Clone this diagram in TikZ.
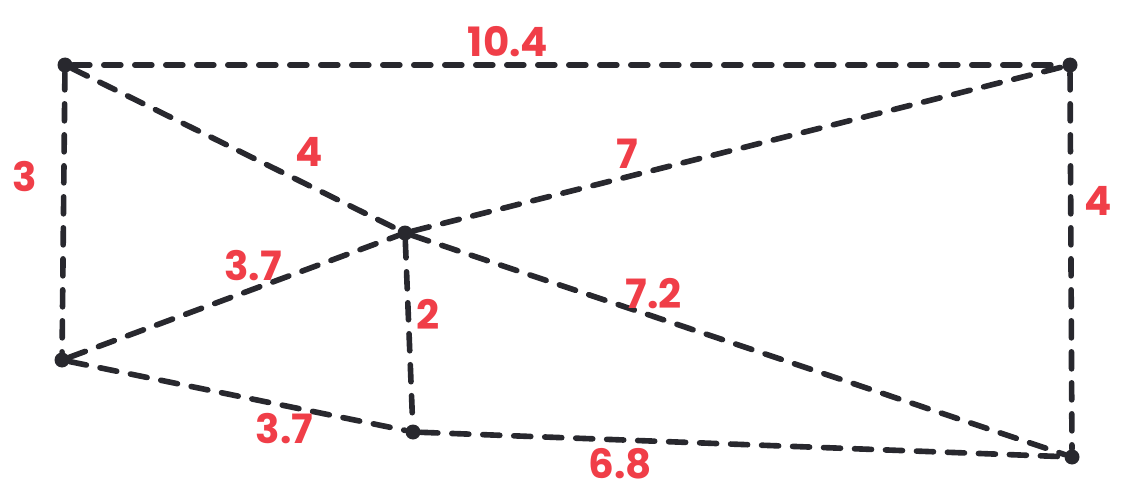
\documentclass[tikz,border=0pt]{standalone}
\usepackage{fontspec}
\setmainfont{Poppins}
\usepackage{tikz}
\usetikzlibrary{calc}
\usepackage{xcolor}
\definecolor{inkblack}{RGB}{40, 40, 46}
\definecolor{markerred}{RGB}{240, 62, 72}

\begin{document}
\begin{tikzpicture}[
  every node/.style={font=\fontsize{23}{23}\selectfont\bfseries},
  vtx/.style={circle,fill=inkblack,inner sep=0pt,minimum size=0.3cm},
  edge/.style={draw=inkblack,line width=3.2pt,line cap=round,
               dash pattern=on 0.34cm off 0.28cm},
  wt/.style={text=markerred,inner sep=3pt},
]
\useasboundingbox (0,0) rectangle (22.56,9.92);

%% ── Vertices ─────────────────────────────────────────────────────────────
\node[vtx] (tl) at (1.30,8.62) {};
\node[vtx] (tr) at (21.40,8.62) {};
\node[vtx] (mid) at (8.10,5.26) {};
\node[vtx] (bl) at (1.24,2.72) {};
\node[vtx] (bm) at (8.26,1.28) {};
\node[vtx] (br) at (21.44,0.78) {};

%% ── Outer edges ──────────────────────────────────────────────────────────
\draw[edge] (tl) -- node[wt,above,pos=0.44]{10.4} (tr);
\draw[edge] (tl) -- node[wt,left,pos=0.37,inner sep=14pt]{3} (bl);
\draw[edge] (tr) -- node[wt,right,pos=0.34,inner sep=6pt]{4} (br);
\draw[edge] (bl) -- node[wt,below,pos=0.64]{3.7} (bm);
\draw[edge] (bm) -- node[wt,below,pos=0.31]{6.8} (br);

%% ── Edges through the middle vertex ──────────────────────────────────────
\draw[edge] (tl) -- node[wt,above right,pos=0.66]{4} (mid);
\draw[edge] (mid) -- node[wt,above,pos=0.33]{7} (tr);
\draw[edge] (bl) -- node[wt,above,pos=0.56]{3.7} (mid);
\draw[edge] (mid) -- node[wt,right,pos=0.4]{2} (bm);
\draw[edge] (mid) -- node[wt,above,pos=0.37]{7.2} (br);

\end{tikzpicture}
\end{document}
